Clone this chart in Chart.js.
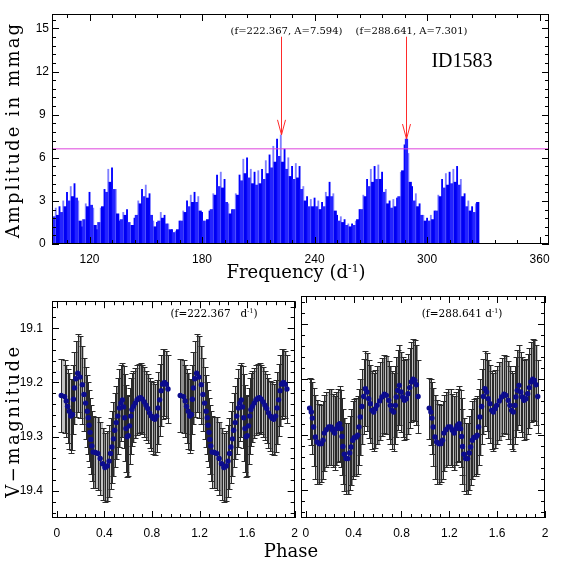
<!DOCTYPE html>
<html>
<head>
<meta charset="utf-8">
<script src="https://cdn.jsdelivr.net/npm/chart.js@4.4.0/dist/chart.umd.min.js"></script>
<style>
  html, body { margin: 0; padding: 0; background: #fff; }
  #wrap { position: relative; width: 561px; height: 561px; overflow: hidden; }
  .box { position: absolute; }
  .box canvas { display: block; }
  .lbl { position: absolute; white-space: nowrap; font-family: 'DejaVu Serif', serif; color: #000;
         transform: translate(-50%, -50%); line-height: 1; }
  .rot { transform: translate(-50%, -50%) rotate(-90deg); }
  .sup { font-size: 60%; vertical-align: 0.6em; }
</style>
</head>
<body>
<div id="wrap">
  <div class="box" style="left:0;top:0"><canvas id="specChart" width="561" height="290"></canvas></div>
  <div class="box" style="left:0;top:285px"><canvas id="leftChart" width="306" height="276"></canvas></div>
  <div class="box" style="left:290px;top:285px"><canvas id="rightChart" width="271" height="276"></canvas></div>

  <div class="lbl rot" style="left:13px;top:130px;font-size:18px;letter-spacing:2.2px">Amplitude in mmag</div>
  <div class="lbl" style="left:296px;top:272px;font-size:18px">Frequency (d<span class="sup">-1</span>)</div>
  <div class="lbl" style="left:462px;top:60px;font-size:20px;font-family:'Liberation Serif',serif">ID1583</div>
  <div class="lbl rot" style="left:13px;top:421px;font-size:18px;letter-spacing:2.5px">V&minus;magnitude</div>
  <div class="lbl" style="left:291px;top:551px;font-size:18px">Phase</div>
  <div class="lbl" style="left:214px;top:313px;font-size:10.5px">(f=222.367&nbsp;&nbsp; d<span class="sup">-1</span>)</div>
  <div class="lbl" style="left:462px;top:313px;font-size:10.5px">(f=288.641 d<span class="sup">-1</span>)</div>
</div>

<script>
// Periodogram (amplitude in mmag, one value per d^-1 starting at freqStart)
const freqStart = 100;
const amplitudes = [
  2.4, 1.9, 2.5, 2.0, 2.6, 2.2, 3.0, 2.6, 3.6, 3.0,
  4.0, 3.3, 4.2, 3.2, 3.0, 1.6, 1.2, 1.7, 2.8, 2.6,
  3.6, 2.7, 2.5, 1.3, 1.0, 1.5, 2.5, 2.6, 3.8, 3.6,
  5.2, 4.3, 5.3, 3.8, 3.8, 2.1, 1.6, 1.7, 2.2, 2.0,
  2.4, 1.5, 1.3, 1.3, 1.8, 2.0, 3.0, 2.8, 3.8, 3.3,
  4.1, 3.2, 3.5, 2.0, 1.6, 1.2, 1.5, 1.6, 2.2, 1.8,
  2.0, 1.4, 1.4, 1.0, 1.0, 0.8, 0.9, 1.0, 1.6, 1.6,
  2.3, 2.2, 3.0, 2.6, 3.4, 2.9, 3.6, 2.9, 3.3, 2.3,
  2.2, 1.6, 1.6, 1.7, 2.3, 2.4, 3.5, 3.4, 4.8, 4.0,
  5.0, 3.9, 4.5, 2.9, 2.8, 2.1, 2.4, 2.4, 3.5, 3.4,
  4.8, 4.4, 5.9, 4.9, 6.0, 4.6, 5.2, 4.2, 5.0, 4.1,
  5.1, 4.2, 5.2, 4.5, 5.8, 4.9, 6.2, 5.3, 6.8, 5.7,
  7.3, 6.1, 7.59, 5.7, 6.6, 5.2, 6.0, 4.7, 5.4, 4.5,
  5.6, 4.6, 5.4, 3.8, 4.0, 3.0, 3.3, 2.6, 3.1, 2.6,
  3.2, 2.6, 3.0, 2.4, 2.9, 2.6, 3.6, 3.3, 4.3, 3.3,
  3.5, 2.3, 2.0, 1.6, 1.9, 1.5, 1.7, 1.3, 1.4, 1.2,
  1.4, 1.3, 1.6, 1.7, 2.4, 2.4, 3.4, 3.3, 4.5, 4.0,
  5.2, 4.3, 5.4, 4.5, 5.5, 4.5, 5.0, 3.6, 3.8, 2.8,
  3.0, 2.5, 3.1, 2.6, 3.2, 3.3, 5.0, 5.1, 6.9, 7.3,
  6.3, 4.3, 4.0, 3.0, 3.5, 2.6, 2.8, 2.0, 2.0, 1.6,
  1.8, 1.6, 2.0, 1.7, 2.3, 2.3, 3.4, 3.3, 4.5, 3.9,
  4.9, 4.1, 5.0, 4.2, 5.2, 4.3, 5.4, 4.1, 4.5, 3.3,
  3.5, 2.6, 3.0, 2.3, 2.6, 2.2, 2.8, 2.9
];
const thresholdAmp = 6.62;
const peakFreqs = [222.367, 288.641];
const peakAmps = [7.594, 7.301];
const specXTicks = [120, 180, 240, 300, 360];
const specYTicks = [0, 3, 6, 9, 12, 15];

// Phase diagrams (one cycle each, shown twice)
const phaseTicks = [0, 0.4, 0.8, 1.2, 1.6, 2];
const magTicks = [19.1, 19.2, 19.3, 19.4];

const phaseA = [0.038, 0.066, 0.080, 0.091, 0.105, 0.118, 0.132, 0.140, 0.149, 0.160,
  0.176, 0.196, 0.215, 0.229, 0.243, 0.256, 0.265, 0.272, 0.280, 0.287,
  0.295, 0.306, 0.325, 0.345, 0.365, 0.385, 0.405, 0.425, 0.440, 0.452,
  0.464, 0.477, 0.487, 0.500, 0.513, 0.527, 0.540, 0.552, 0.562, 0.572,
  0.582, 0.592, 0.602, 0.612, 0.622, 0.632, 0.645, 0.660, 0.675, 0.690,
  0.705, 0.720, 0.735, 0.750, 0.765, 0.780, 0.795, 0.810, 0.825, 0.840,
  0.852, 0.865, 0.877, 0.890, 0.905, 0.920, 0.935];
const magA = [19.224, 19.226, 19.234, 19.244, 19.253, 19.262, 19.259, 19.231, 19.210, 19.193,
  19.183, 19.190, 19.204, 19.222, 19.238, 19.253, 19.265, 19.279, 19.292, 19.305,
  19.317, 19.328, 19.329, 19.331, 19.340, 19.350, 19.357, 19.354, 19.345, 19.331,
  19.319, 19.304, 19.288, 19.274, 19.262, 19.247, 19.238, 19.232, 19.245, 19.265,
  19.285, 19.300, 19.298, 19.280, 19.262, 19.250, 19.244, 19.238, 19.232, 19.229,
  19.228, 19.231, 19.236, 19.242, 19.248, 19.256, 19.262, 19.266, 19.268, 19.262,
  19.247, 19.232, 19.215, 19.203, 19.200, 19.203, 19.212];
const errA = [0.068, 0.068, 0.066, 0.068, 0.070, 0.068, 0.066, 0.064, 0.066, 0.070,
  0.072, 0.075, 0.072, 0.068, 0.066, 0.066, 0.066, 0.066, 0.064, 0.064,
  0.064, 0.066, 0.066, 0.068, 0.068, 0.066, 0.064, 0.064, 0.066, 0.066,
  0.066, 0.068, 0.068, 0.068, 0.070, 0.072, 0.070, 0.068, 0.075, 0.080,
  0.080, 0.075, 0.075, 0.070, 0.070, 0.068, 0.066, 0.064, 0.064, 0.064,
  0.064, 0.064, 0.064, 0.064, 0.064, 0.064, 0.064, 0.066, 0.066, 0.066,
  0.066, 0.066, 0.066, 0.064, 0.062, 0.062, 0.062];

const phaseB = [0.032, 0.046, 0.055, 0.065, 0.080, 0.094, 0.113, 0.130, 0.144, 0.155,
  0.172, 0.191, 0.211, 0.225, 0.241, 0.255, 0.269, 0.283, 0.294, 0.303,
  0.310, 0.322, 0.336, 0.353, 0.367, 0.378, 0.392, 0.406, 0.423, 0.434,
  0.445, 0.456, 0.470, 0.484, 0.498, 0.512, 0.526, 0.540, 0.554, 0.568,
  0.582, 0.596, 0.618, 0.637, 0.657, 0.674, 0.693, 0.707, 0.721, 0.735,
  0.749, 0.757, 0.768, 0.782, 0.797, 0.810, 0.824, 0.841, 0.855, 0.869,
  0.883, 0.897, 0.911, 0.925, 0.939];
const magB = [19.252, 19.259, 19.270, 19.286, 19.304, 19.313, 19.316, 19.316, 19.310, 19.297,
  19.291, 19.286, 19.286, 19.292, 19.297, 19.289, 19.283, 19.280, 19.289, 19.303,
  19.321, 19.335, 19.343, 19.343, 19.333, 19.322, 19.310, 19.305, 19.304, 19.301,
  19.286, 19.268, 19.249, 19.231, 19.217, 19.223, 19.235, 19.244, 19.256, 19.259,
  19.253, 19.247, 19.239, 19.232, 19.227, 19.229, 19.238, 19.247, 19.256, 19.259,
  19.247, 19.232, 19.220, 19.211, 19.223, 19.232, 19.238, 19.235, 19.226, 19.215,
  19.205, 19.200, 19.202, 19.210, 19.231];
const errB = [0.055, 0.060, 0.065, 0.070, 0.075, 0.075, 0.072, 0.070, 0.070, 0.068,
  0.068, 0.068, 0.068, 0.066, 0.066, 0.066, 0.066, 0.068, 0.070, 0.070,
  0.068, 0.066, 0.064, 0.064, 0.066, 0.068, 0.070, 0.070, 0.070, 0.070,
  0.068, 0.068, 0.068, 0.068, 0.068, 0.070, 0.070, 0.070, 0.070, 0.070,
  0.070, 0.070, 0.070, 0.070, 0.070, 0.070, 0.070, 0.070, 0.070, 0.070,
  0.070, 0.072, 0.072, 0.072, 0.072, 0.072, 0.072, 0.072, 0.072, 0.072,
  0.072, 0.073, 0.073, 0.072, 0.065];

const tickFont = { family: "'Liberation Sans', Arial, sans-serif", size: 12 };
const fmt = v => String(Number(v.toFixed(2)));

// Box with inward major/minor ticks on all four sides (PGPLOT style)
const framePlugin = {
  id: 'frame',
  afterDatasetsDraw(chart, args, opts) {
    const { ctx, chartArea: a, scales: { x, y } } = chart;
    ctx.save();
    ctx.strokeStyle = '#000';
    ctx.lineWidth = 1;
    ctx.strokeRect(Math.round(a.left) + 0.5, Math.round(a.top) + 0.5,
      Math.round(a.width) - 1, Math.round(a.height) - 1);

    const seg = (x1, y1, x2, y2) => {
      ctx.beginPath(); ctx.moveTo(x1, y1); ctx.lineTo(x2, y2); ctx.stroke();
    };
    const ticksFor = (scale, major, step) => {
      const out = major.map(v => ({ v, len: 7 }));
      for (let k = Math.ceil(scale.min / step - 1e-6); k * step <= scale.max + 1e-6; k++) {
        const v = k * step;
        if (!major.some(m => Math.abs(m - v) < step / 10)) out.push({ v, len: 4 });
      }
      return out;
    };
    ticksFor(x, opts.xMajor, opts.xMinor).forEach(t => {
      const px = Math.round(x.getPixelForValue(t.v)) + 0.5;
      seg(px, a.bottom, px, a.bottom - t.len);
      seg(px, a.top, px, a.top + t.len);
    });
    ticksFor(y, opts.yMajor, opts.yMinor).forEach(t => {
      const py = Math.round(y.getPixelForValue(t.v)) + 0.5;
      seg(a.left, py, a.left + t.len, py);
      seg(a.right, py, a.right - t.len, py);
    });
    ctx.restore();
  }
};

// Red arrows and labels marking the two main frequencies
const peakPlugin = {
  id: 'peaks',
  afterDatasetsDraw(chart) {
    const { ctx, scales: { x, y } } = chart;
    ctx.save();
    ctx.strokeStyle = '#ff2a2a';
    ctx.lineWidth = 1;
    ctx.fillStyle = '#000';
    ctx.font = "10px 'DejaVu Serif', serif";
    ctx.textAlign = 'center';
    ctx.textBaseline = 'middle';
    peakFreqs.forEach((f, i) => {
      const px = Math.round(x.getPixelForValue(f)) + 0.5;
      const py = y.getPixelForValue(peakAmps[i]);
      ctx.beginPath();
      ctx.moveTo(px, y.getPixelForValue(14.42));
      ctx.lineTo(px, py);
      ctx.moveTo(px - 4, py - 15);
      ctx.lineTo(px, py);
      ctx.lineTo(px + 4, py - 15);
      ctx.stroke();
      ctx.fillText(`(f=${f.toFixed(3)}, A=${peakAmps[i].toFixed(3)})`, px + 5, y.getPixelForValue(14.78));
    });
    ctx.restore();
  }
};

// Vertical error bars with caps, drawn under the points; the gap to the
// next bar is shaded grey so the bars read as a continuous band
const errorBarPlugin = {
  id: 'errorBars',
  beforeDatasetsDraw(chart) {
    const { ctx, chartArea: a, scales: { x, y } } = chart;
    const ds = chart.data.datasets[0];
    const pts = ds.data;
    ctx.save();
    ctx.beginPath();
    ctx.rect(a.left, a.top, a.width, a.height);
    ctx.clip();
    ctx.lineWidth = 1;
    pts.forEach((p, i) => {
      const e = ds.errors[i];
      const px = Math.round(x.getPixelForValue(p.x));
      const y1 = Math.round(y.getPixelForValue(p.y - e));
      const y2 = Math.round(y.getPixelForValue(p.y + e));
      const next = pts[i + 1];
      if (next && next.x - p.x < 0.03) {
        const nx = Math.round(x.getPixelForValue(next.x));
        ctx.fillStyle = i % 2 ? '#8e8e8e' : '#c2c2c2';
        ctx.fillRect(px, Math.min(y1, y2), nx - px, Math.abs(y2 - y1));
      }
    });
    pts.forEach((p, i) => {
      const e = ds.errors[i];
      const px = Math.round(x.getPixelForValue(p.x)) + 0.5;
      const y1 = Math.round(y.getPixelForValue(p.y - e)) + 0.5;
      const y2 = Math.round(y.getPixelForValue(p.y + e)) + 0.5;
      ctx.strokeStyle = '#2a2a2a';
      ctx.beginPath();
      ctx.moveTo(px, y1); ctx.lineTo(px, y2);
      ctx.moveTo(px - 3, y1); ctx.lineTo(px + 3, y1);
      ctx.moveTo(px - 3, y2); ctx.lineTo(px + 3, y2);
      ctx.stroke();
    });
    ctx.restore();
  }
};

function baseOptions(padding) {
  return {
    responsive: false,
    animation: false,
    events: [],
    layout: { padding },
    plugins: { legend: { display: false }, tooltip: { enabled: false } }
  };
}

function axis(min, max, ticks, extra) {
  return Object.assign({
    type: 'linear',
    min, max,
    offset: false,
    grid: { display: false, drawTicks: false, offset: false },
    border: { display: false },
    afterBuildTicks: s => { s.ticks = ticks.map(v => ({ value: v })); },
    ticks: { font: tickFont, color: '#000', autoSkip: false, maxRotation: 0, callback: fmt }
  }, extra);
}

// --- Top: amplitude spectrum ---
// every other alias line is a tall thin spike, the ones between form the dense base
const specPoints = amplitudes.map((a, i) => ({ x: freqStart + i, y: a }));
const spikePoints = specPoints.filter((d, i) => i % 2 === 0);
const basePoints = specPoints.filter((d, i) => i % 2 === 1);

const specOpts = baseOptions({ top: 14, right: 12, left: 0, bottom: 0 });
specOpts.scales = {
  x: axis(100, 365, specXTicks, { afterFit: s => { s.height = 46; } }),
  y: axis(0, 16, specYTicks, { afterFit: s => { s.width = 52; } })
};
specOpts.scales.x.ticks.padding = 8;
specOpts.scales.y.ticks.padding = 3;
specOpts.scales.y.ticks.crossAlign = 'center';
specOpts.plugins.frame = { xMajor: specXTicks, xMinor: 12, yMajor: specYTicks, yMinor: 0.6 };

new Chart(document.getElementById('specChart'), {
  type: 'bar',
  data: {
    datasets: [
      {
        type: 'line',
        data: [{ x: 100, y: thresholdAmp }, { x: 365, y: thresholdAmp }],
        borderColor: '#dd44dd',
        borderWidth: 1,
        pointRadius: 0,
        fill: false,
        order: 0
      },
      {
        data: basePoints,
        backgroundColor: basePoints.map((d, i) => i % 2 ? '#0000f4' : '#2424ff'),
        barThickness: 2.6,
        grouped: false,
        order: 1
      },
      {
        data: spikePoints,
        backgroundColor: spikePoints.map((d, i) => i % 2 ? '#8080ff' : '#0000ff'),
        barThickness: 1.2,
        grouped: false,
        order: 2
      }
    ]
  },
  options: specOpts,
  plugins: [framePlugin, peakPlugin]
});

// --- Bottom: phase diagrams ---
function twoCycles(phases, mags) {
  const one = phases.map((p, i) => ({ x: p, y: mags[i] }));
  return one.concat(phases.map((p, i) => ({ x: p + 1, y: mags[i] })));
}

function phaseChart(id, phases, mags, errs, padding, yWidth, showYLabels) {
  const opts = baseOptions(padding);
  opts.scales = {
    x: axis(-0.04, 2.0, phaseTicks, { afterFit: s => { s.height = 43; } }),
    y: axis(19.05, 19.45, magTicks, { reverse: true, afterFit: s => { s.width = yWidth; } })
  };
  opts.scales.x.ticks.padding = 8;
  opts.scales.y.ticks.padding = 9;
  opts.scales.y.ticks.crossAlign = 'center';
  opts.scales.y.ticks.display = showYLabels;
  opts.plugins.frame = { xMajor: phaseTicks, xMinor: 0.08, yMajor: magTicks, yMinor: 0.02 };

  new Chart(document.getElementById(id), {
    type: 'scatter',
    data: {
      datasets: [{
        data: twoCycles(phases, mags),
        errors: errs.concat(errs),
        pointRadius: 2.7,
        pointBackgroundColor: '#0c0c8e',
        pointBorderWidth: 0
      }]
    },
    options: opts,
    plugins: [errorBarPlugin, framePlugin]
  });
}

phaseChart('leftChart', phaseA, magA, errA, { top: 11, right: 8, left: 0, bottom: 0 }, 52, true);
phaseChart('rightChart', phaseB, magB, errB, { top: 11, right: 16, left: 0, bottom: 0 }, 11, false);
</script>
</body>
</html>
